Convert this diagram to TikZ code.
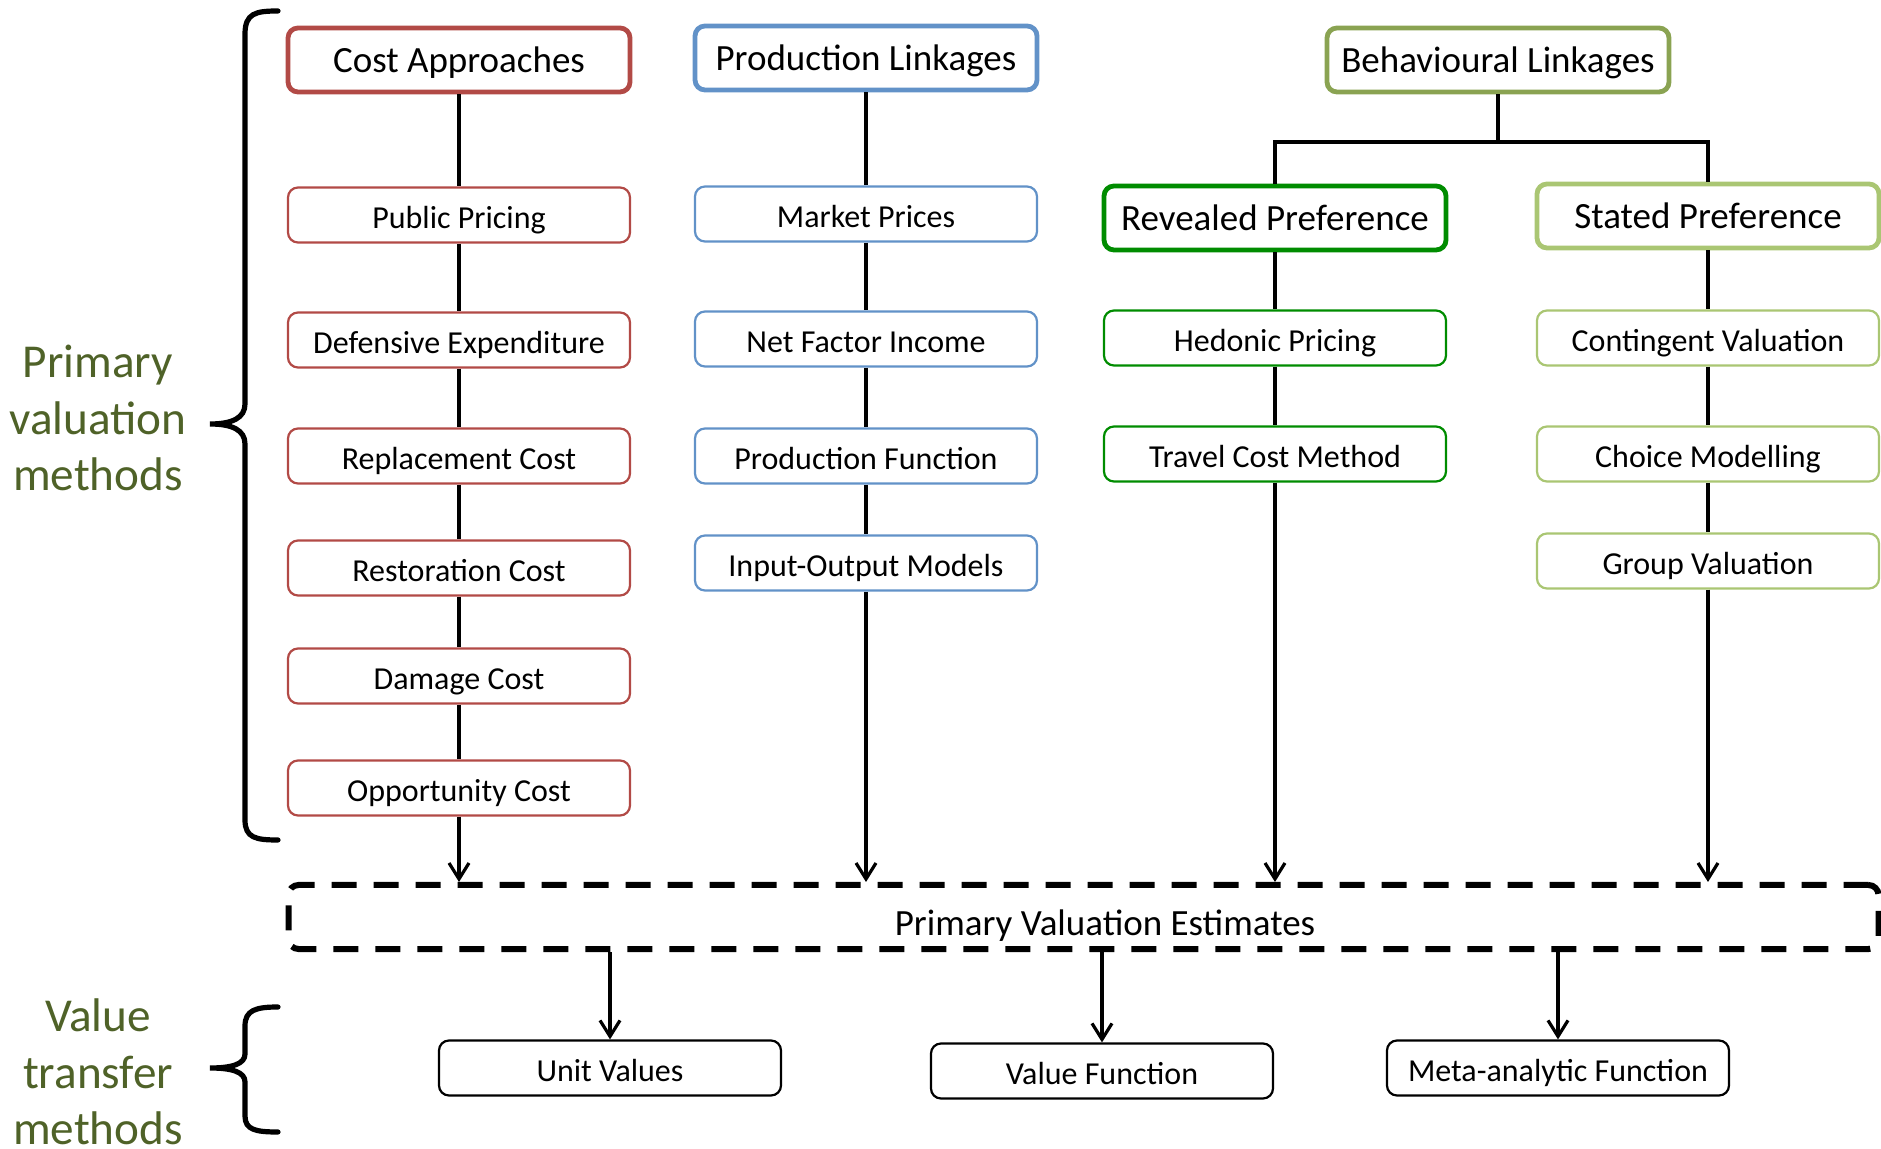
\documentclass[tikz,border=0pt]{standalone}
\usepackage{fontspec}
\setmainfont{Carlito}
\usetikzlibrary{arrows.meta}
\definecolor{cred}{RGB}{178,74,70}
\definecolor{cblue}{RGB}{98,146,200}
\definecolor{colive}{RGB}{138,163,82}
\definecolor{cgreen}{RGB}{0,140,0}
\definecolor{clight}{RGB}{170,198,115}
\definecolor{ctext}{RGB}{79,98,40}
\begin{document}
\begin{tikzpicture}[x=0.5pt,y=-0.5pt,
  hdr/.style={draw, line width=2.4pt, rounded corners=5pt, inner sep=0pt,
    minimum width=171pt, minimum height=32pt, fill=white,
    text height=13pt, text depth=0pt,
    font=\fontsize{18.5}{22}\selectfont},
  sub/.style={draw, line width=1.1pt, rounded corners=5pt, inner sep=0pt,
    minimum width=171pt, minimum height=27.5pt, fill=white,
    text height=13.2pt, text depth=0pt,
    font=\fontsize{16}{19}\selectfont},
  conn/.style={line width=2.1pt},
  arr/.style={line width=2pt, -{Straight Barb[length=8pt,width=10pt,line width=1.6pt]}},
  arrb/.style={line width=1.6pt, -{Straight Barb[length=8pt,width=10pt,line width=1.6pt]}},
  brace/.style={line width=2.6pt, line cap=round},
  side/.style={text=ctext, align=center, font=\fontsize{23.6}{28.2}\selectfont}]
\useasboundingbox (0,0) rectangle (1881,1149);

% column 1: cost approaches
\node[hdr, draw=cred] (ca) at (459,60) {Cost Approaches};
\node[sub, draw=cred] (pp) at (459,215) {Public Pricing};
\node[sub, draw=cred] (de) at (459,340) {Defensive Expenditure};
\node[sub, draw=cred] (rc) at (459,456) {Replacement Cost};
\node[sub, draw=cred] (rsc) at (459,568) {Restoration Cost};
\node[sub, draw=cred] (dc) at (459,676) {Damage Cost};
\node[sub, draw=cred] (oc) at (459,788) {Opportunity Cost};

% column 2: production linkages
\node[hdr, draw=cblue] (pl) at (866,58) {Production Linkages};
\node[sub, draw=cblue] (mp) at (866,214) {Market Prices};
\node[sub, draw=cblue] (nfi) at (866,339) {Net Factor Income};
\node[sub, draw=cblue] (pf) at (866,456) {Production Function};
\node[sub, draw=cblue] (io) at (866,563) {Input-Output Models};

% behavioural linkages
\node[hdr, draw=colive] (bl) at (1498,60) {Behavioural Linkages};
\node[hdr, draw=cgreen] (rp) at (1275,218) {Revealed Preference};
\node[sub, draw=cgreen] (hp) at (1275,338) {Hedonic Pricing};
\node[sub, draw=cgreen] (tcm) at (1275,454) {Travel Cost Method};
\node[hdr, draw=clight] (sp) at (1708,216) {Stated Preference};
\node[sub, draw=clight] (cv) at (1708,338) {Contingent Valuation};
\node[sub, draw=clight] (cm) at (1708,454) {Choice Modelling};
\node[sub, draw=clight] (gv) at (1708,561) {Group Valuation};

% primary valuation estimates
\node[draw, line width=3pt, dash pattern=on 12.5pt off 8.5pt, rounded corners=5pt,
  minimum width=795pt, minimum height=32pt, inner sep=0pt] (pve) at (1083.5,917) {};
\node[font=\fontsize{18.5}{22}\selectfont, inner sep=0pt] (pvet) at (1105,926) {Primary Valuation Estimates};

% value transfer
\node[sub, draw=black] (uv) at (610,1068) {Unit Values};
\node[sub, draw=black] (vf) at (1102,1071) {Value Function};
\node[sub, draw=black] (maf) at (1558,1068) {Meta-analytic Function};

% connectors column 1
\draw[conn] (ca) -- (pp);
\draw[conn] (pp) -- (de);
\draw[conn] (de) -- (rc);
\draw[conn] (rc) -- (rsc);
\draw[conn] (rsc) -- (dc);
\draw[conn] (dc) -- (oc);
\draw[arr] (oc.south) -- (oc.south |- pve.north);

% connectors column 2
\draw[conn] (pl) -- (mp);
\draw[conn] (mp) -- (nfi);
\draw[conn] (nfi) -- (pf);
\draw[conn] (pf) -- (io);
\draw[arr] (io.south) -- (io.south |- pve.north);

% behavioural tree
\coordinate (bj) at (1498,142);
\draw[conn] (bl.south) -- (bj);
\draw[conn] (rp.north) -- (rp.north |- bj) -- (sp.north |- bj) -- (sp.north);
\draw[conn] (rp) -- (hp);
\draw[conn] (hp) -- (tcm);
\draw[arr] (tcm.south) -- (tcm.south |- pve.north);
\draw[conn] (sp) -- (cv);
\draw[conn] (cv) -- (cm);
\draw[conn] (cm) -- (gv);
\draw[arr] (gv.south) -- (gv.south |- pve.north);

% arrows to value transfer
\draw[arrb] (uv.north |- pve.south) -- (uv.north);
\draw[arrb] (vf.north |- pve.south) -- (vf.north);
\draw[arrb] (maf.north |- pve.south) -- (maf.north);

% braces
\draw[brace] (278,11) .. controls (256,11) and (245,13) .. (245,34) -- (245,404)
  .. controls (245,418) and (232,424) .. (210,424)
  .. controls (232,424) and (245,430) .. (245,444) -- (245,820)
  .. controls (245,838) and (256,840) .. (278,840);
\draw[brace] (278,1007) .. controls (256,1007) and (245,1010) .. (245,1026) -- (245,1054)
  .. controls (245,1064) and (232,1068) .. (210,1068)
  .. controls (232,1068) and (245,1072) .. (245,1082) -- (245,1116)
  .. controls (245,1130) and (256,1132) .. (278,1132);

% side labels
\node[side] (pvm) at (98,418) {Primary\\valuation\\methods};
\node[side] (vtm) at (98,1072) {Value\\transfer\\methods};
\end{tikzpicture}
\end{document}
